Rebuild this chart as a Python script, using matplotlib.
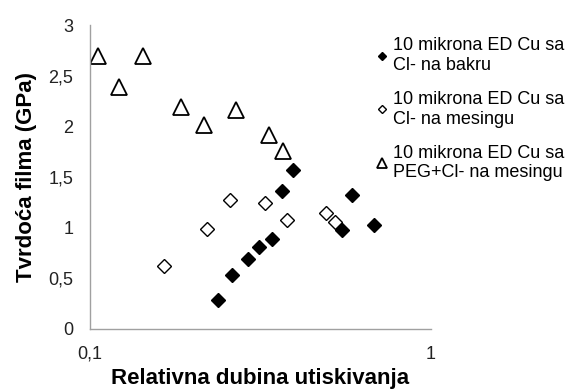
import matplotlib.pyplot as plt
from matplotlib.ticker import FixedLocator, FuncFormatter, NullLocator

plt.rcParams['font.family'] = ['Liberation Sans', 'DejaVu Sans']

# relativna dubina (x) i tvrdoca (y) za tri uzorka
x_bakar = [0.237, 0.261, 0.291, 0.313, 0.341, 0.367, 0.394, 0.547, 0.588, 0.682]
y_bakar = [0.29, 0.53, 0.69, 0.81, 0.885, 1.36, 1.57, 0.98, 1.32, 1.03]

x_mesing = [0.165, 0.221, 0.258, 0.326, 0.379, 0.492, 0.523]
y_mesing = [0.625, 0.99, 1.27, 1.24, 1.08, 1.14, 1.06]

x_peg = [0.106, 0.122, 0.143, 0.185, 0.216, 0.268, 0.336, 0.368]
y_peg = [2.69, 2.39, 2.695, 2.19, 2.01, 2.16, 1.915, 1.76]

labels = ['10 mikrona ED Cu sa\nCl- na bakru',
          '10 mikrona ED Cu sa\nCl- na mesingu',
          '10 mikrona ED Cu sa\nPEG+Cl- na mesingu']

fig = plt.figure(figsize=(5.76, 3.92), dpi=100)
ax = fig.add_axes([0.156, 0.161, 0.592, 0.775])

ax.plot(x_bakar, y_bakar, 'D', ms=7.6, mfc='black', mec='black', label=labels[0])
ax.plot(x_mesing, y_mesing, 'D', ms=7.6, mfc='white', mec='black', mew=1.0, label=labels[1])
ax.plot(x_peg, y_peg, '^', ms=11, mfc='none', mec='black', mew=1.3, label=labels[2])

ax.set_xscale('log')
ax.set_xlim(0.1, 1)
ax.set_ylim(0, 3)
ax.xaxis.set_major_locator(FixedLocator([0.1, 1]))
ax.xaxis.set_minor_locator(NullLocator())
ax.set_yticks([0, 0.5, 1, 1.5, 2, 2.5, 3])
fmt = FuncFormatter(lambda v, p: ('%g' % v).replace('.', ','))
ax.xaxis.set_major_formatter(fmt)
ax.yaxis.set_major_formatter(fmt)
ax.tick_params(length=0, labelsize=13, pad=12, colors='#222222')

for s in ['top', 'right']:
    ax.spines[s].set_visible(False)
for s in ['left', 'bottom']:
    ax.spines[s].set_color('#a0a0a0')
    ax.spines[s].set_linewidth(1.0)

ax.set_xlabel('Relativna dubina utiskivanja', fontsize=16, fontweight='bold', labelpad=4)
ax.set_ylabel('Tvrdoća filma (GPa)', fontsize=16, fontweight='bold', labelpad=8)

ax.legend(loc='upper left', bbox_to_anchor=(0.84, 0.96), frameon=False,
          fontsize=13, markerscale=0.6, handlelength=0.6, handletextpad=0.3,
          labelspacing=0.95, borderaxespad=0, borderpad=0)

fig.savefig('out.png', dpi=100)
